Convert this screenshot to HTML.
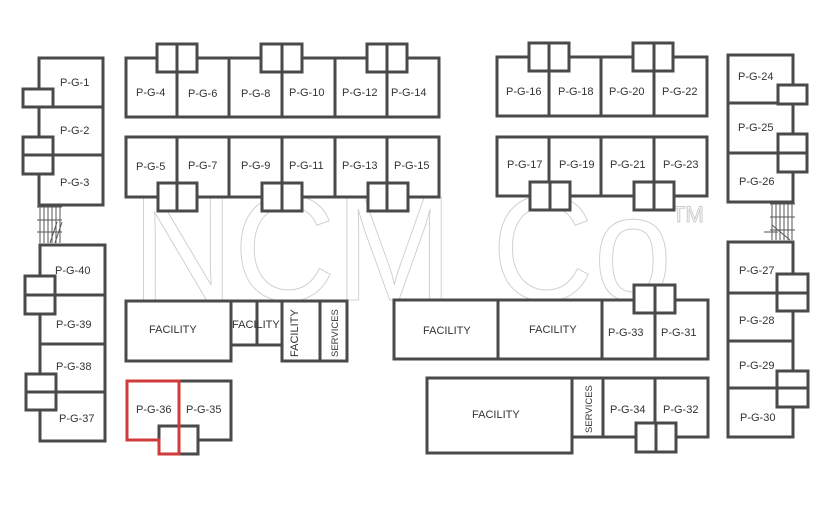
<!DOCTYPE html>
<html><head><meta charset="utf-8"><style>
html,body{margin:0;padding:0;background:#fff;}
svg{display:block;}
.w{fill:#fff;stroke:#4a4a4a;stroke-width:3;}
.l{stroke:#4a4a4a;stroke-width:3;fill:none;}
text{font-family:"Liberation Sans",sans-serif;font-size:11px;fill:#333;}
.wm{font-family:"Liberation Sans",sans-serif;fill:none;stroke:#cfcfcf;stroke-width:1;font-size:150px;}
</style></head><body>
<svg width="831" height="527" viewBox="0 0 831 527" xmlns="http://www.w3.org/2000/svg">
<rect width="831" height="527" fill="#fff"/>
<!-- watermark -->
<text class="wm" x="132" y="300" textLength="540" lengthAdjust="spacingAndGlyphs">NCM Co</text>
<text x="672" y="222" style="fill:none;stroke:#ccc;stroke-width:1;font-size:22px">TM</text>

<!-- left upper column -->
<rect class="w" x="39" y="58" width="64" height="147"/>
<line class="l" x1="39" y1="107" x2="103" y2="107"/>
<line class="l" x1="39" y1="155" x2="103" y2="155"/>
<rect class="w" x="23" y="89" width="30" height="18"/>
<rect class="w" x="23" y="137" width="30" height="37"/>
<line class="l" x1="23" y1="155" x2="53" y2="155"/>
<text x="60" y="86">P-G-1</text><text x="60" y="134">P-G-2</text><text x="60" y="186">P-G-3</text>
<!-- stairs left -->
<g stroke="#555" stroke-width="1">
<line x1="37" y1="207" x2="62" y2="207"/><line x1="37" y1="220" x2="62" y2="220"/><line x1="37" y1="232" x2="62" y2="232"/>
<line x1="40" y1="207" x2="40" y2="243"/><line x1="44" y1="207" x2="44" y2="243"/><line x1="48" y1="207" x2="48" y2="243"/><line x1="52" y1="207" x2="52" y2="243"/><line x1="56" y1="207" x2="56" y2="243"/><line x1="60" y1="207" x2="60" y2="243"/>
<line x1="50" y1="243" x2="57" y2="222"/><line x1="55" y1="243" x2="62" y2="222"/>
</g>
<!-- left lower column -->
<rect class="w" x="40" y="245" width="65" height="196"/>
<line class="l" x1="40" y1="295" x2="105" y2="295"/>
<line class="l" x1="40" y1="344" x2="105" y2="344"/>
<line class="l" x1="40" y1="392" x2="105" y2="392"/>
<rect class="w" x="25" y="276" width="30" height="38"/>
<line class="l" x1="25" y1="295" x2="55" y2="295"/>
<rect class="w" x="26" y="374" width="30" height="36"/>
<line class="l" x1="26" y1="392" x2="56" y2="392"/>
<text x="55" y="274">P-G-40</text><text x="56" y="328">P-G-39</text><text x="56" y="370">P-G-38</text><text x="59" y="422">P-G-37</text>

<!-- top block 1 -->
<rect class="w" x="126" y="58" width="313" height="59"/>
<line class="l" x1="177" y1="58" x2="177" y2="117"/><line class="l" x1="229" y1="58" x2="229" y2="117"/><line class="l" x1="282" y1="58" x2="282" y2="117"/><line class="l" x1="335" y1="58" x2="335" y2="117"/><line class="l" x1="387" y1="58" x2="387" y2="117"/>
<rect class="w" x="157" y="44" width="40" height="28"/><line class="l" x1="177" y1="44" x2="177" y2="72"/>
<rect class="w" x="261" y="44" width="41" height="28"/><line class="l" x1="282" y1="44" x2="282" y2="72"/>
<rect class="w" x="367" y="44" width="40" height="28"/><line class="l" x1="387" y1="44" x2="387" y2="72"/>
<text x="136" y="96">P-G-4</text><text x="188" y="97">P-G-6</text><text x="241" y="97">P-G-8</text><text x="289" y="96">P-G-10</text><text x="342" y="96">P-G-12</text><text x="391" y="96">P-G-14</text>
<!-- row 2 -->
<rect class="w" x="126" y="137" width="313" height="60"/>
<line class="l" x1="177" y1="137" x2="177" y2="197"/><line class="l" x1="229" y1="137" x2="229" y2="197"/><line class="l" x1="282" y1="137" x2="282" y2="197"/><line class="l" x1="335" y1="137" x2="335" y2="197"/><line class="l" x1="387" y1="137" x2="387" y2="197"/>
<rect class="w" x="158" y="183" width="39" height="28"/><line class="l" x1="177" y1="183" x2="177" y2="211"/>
<rect class="w" x="262" y="183" width="40" height="28"/><line class="l" x1="282" y1="183" x2="282" y2="211"/>
<rect class="w" x="368" y="183" width="40" height="28"/><line class="l" x1="387" y1="183" x2="387" y2="211"/>
<text x="136" y="170">P-G-5</text><text x="188" y="169">P-G-7</text><text x="241" y="169">P-G-9</text><text x="289" y="169">P-G-11</text><text x="342" y="169">P-G-13</text><text x="394" y="169">P-G-15</text>

<!-- right top block -->
<rect class="w" x="497" y="57" width="210" height="59"/>
<line class="l" x1="549" y1="57" x2="549" y2="116"/><line class="l" x1="601" y1="57" x2="601" y2="116"/><line class="l" x1="654" y1="57" x2="654" y2="116"/>
<rect class="w" x="529" y="43" width="40" height="28"/><line class="l" x1="549" y1="43" x2="549" y2="71"/>
<rect class="w" x="633" y="43" width="40" height="28"/><line class="l" x1="654" y1="43" x2="654" y2="71"/>
<text x="506" y="95">P-G-16</text><text x="558" y="95">P-G-18</text><text x="609" y="95">P-G-20</text><text x="662" y="95">P-G-22</text>
<rect class="w" x="497" y="137" width="210" height="59"/>
<line class="l" x1="549" y1="137" x2="549" y2="196"/><line class="l" x1="601" y1="137" x2="601" y2="196"/><line class="l" x1="654" y1="137" x2="654" y2="196"/>
<rect class="w" x="530" y="182" width="40" height="28"/><line class="l" x1="550" y1="182" x2="550" y2="210"/>
<rect class="w" x="634" y="182" width="40" height="28"/><line class="l" x1="654" y1="182" x2="654" y2="210"/>
<text x="507" y="168">P-G-17</text><text x="559" y="168">P-G-19</text><text x="610" y="168">P-G-21</text><text x="663" y="168">P-G-23</text>

<!-- right upper column -->
<rect class="w" x="728" y="55" width="65" height="147"/>
<line class="l" x1="728" y1="103" x2="793" y2="103"/><line class="l" x1="728" y1="153" x2="793" y2="153"/>
<rect class="w" x="778" y="85" width="29" height="19"/>
<rect class="w" x="778" y="134" width="29" height="38"/><line class="l" x1="778" y1="153" x2="807" y2="153"/>
<text x="738" y="80">P-G-24</text><text x="738" y="131">P-G-25</text><text x="739" y="185">P-G-26</text>
<g stroke="#555" stroke-width="1">
<line x1="770" y1="204" x2="795" y2="204"/><line x1="770" y1="217" x2="795" y2="217"/><line x1="770" y1="230" x2="795" y2="230"/>
<line x1="772" y1="204" x2="772" y2="240"/><line x1="776" y1="204" x2="776" y2="240"/><line x1="780" y1="204" x2="780" y2="240"/><line x1="784" y1="204" x2="784" y2="240"/><line x1="788" y1="204" x2="788" y2="240"/><line x1="792" y1="204" x2="792" y2="240"/>
<line x1="772" y1="225" x2="790" y2="240"/><line x1="764" y1="232" x2="778" y2="232"/>
</g>
<!-- right lower column -->
<rect class="w" x="728" y="242" width="65" height="195"/>
<line class="l" x1="728" y1="293" x2="793" y2="293"/><line class="l" x1="728" y1="341" x2="793" y2="341"/><line class="l" x1="728" y1="388" x2="793" y2="388"/>
<rect class="w" x="777" y="274" width="31" height="37"/><line class="l" x1="777" y1="293" x2="808" y2="293"/>
<rect class="w" x="777" y="371" width="31" height="36"/><line class="l" x1="777" y1="388" x2="808" y2="388"/>
<text x="739" y="274">P-G-27</text><text x="739" y="324">P-G-28</text><text x="739" y="369">P-G-29</text><text x="740" y="421">P-G-30</text>

<!-- left facilities -->
<rect class="w" x="126" y="301" width="105" height="60"/>
<rect class="w" x="231" y="301" width="51" height="44"/><line class="l" x1="257" y1="301" x2="257" y2="345"/>
<rect class="w" x="282" y="301" width="38" height="60"/>
<rect class="w" x="320" y="301" width="27" height="60"/>
<text x="149" y="333">FACILITY</text>
<text x="232" y="328">FACILITY</text>
<text transform="translate(298,357) rotate(-90)">FACILITY</text>
<text transform="translate(338,357) rotate(-90)" style="font-size:9.5px">SERVICES</text>

<!-- P-G-35/36 -->
<rect class="w" x="179" y="381" width="52" height="59"/>
<rect class="w" x="159" y="426" width="39" height="28"/>
<path d="M127 381 H179 V454 H159 V440 H127 Z" fill="none" stroke="#d23b3b" stroke-width="3"/>
<text x="136" y="413">P-G-36</text><text x="186" y="413">P-G-35</text>

<!-- right middle -->
<rect class="w" x="394" y="300" width="314" height="59"/>
<line class="l" x1="498" y1="300" x2="498" y2="359"/><line class="l" x1="602" y1="300" x2="602" y2="359"/><line class="l" x1="655" y1="300" x2="655" y2="359"/>
<rect class="w" x="634" y="285" width="41" height="28"/><line class="l" x1="655" y1="285" x2="655" y2="313"/>
<text x="423" y="334">FACILITY</text><text x="529" y="333">FACILITY</text><text x="608" y="336">P-G-33</text><text x="661" y="336">P-G-31</text>

<!-- right lower -->
<rect class="w" x="427" y="378" width="145" height="75"/>
<rect class="w" x="572" y="378" width="136" height="59"/>
<line class="l" x1="603" y1="378" x2="603" y2="437"/><line class="l" x1="655" y1="378" x2="655" y2="437"/>
<rect class="w" x="636" y="423" width="40" height="29"/><line class="l" x1="656" y1="423" x2="656" y2="452"/>
<text x="472" y="418">FACILITY</text>
<text transform="translate(592,433) rotate(-90)" style="font-size:9.5px">SERVICES</text>
<text x="610" y="413">P-G-34</text><text x="663" y="413">P-G-32</text>
</svg>
</body></html>
